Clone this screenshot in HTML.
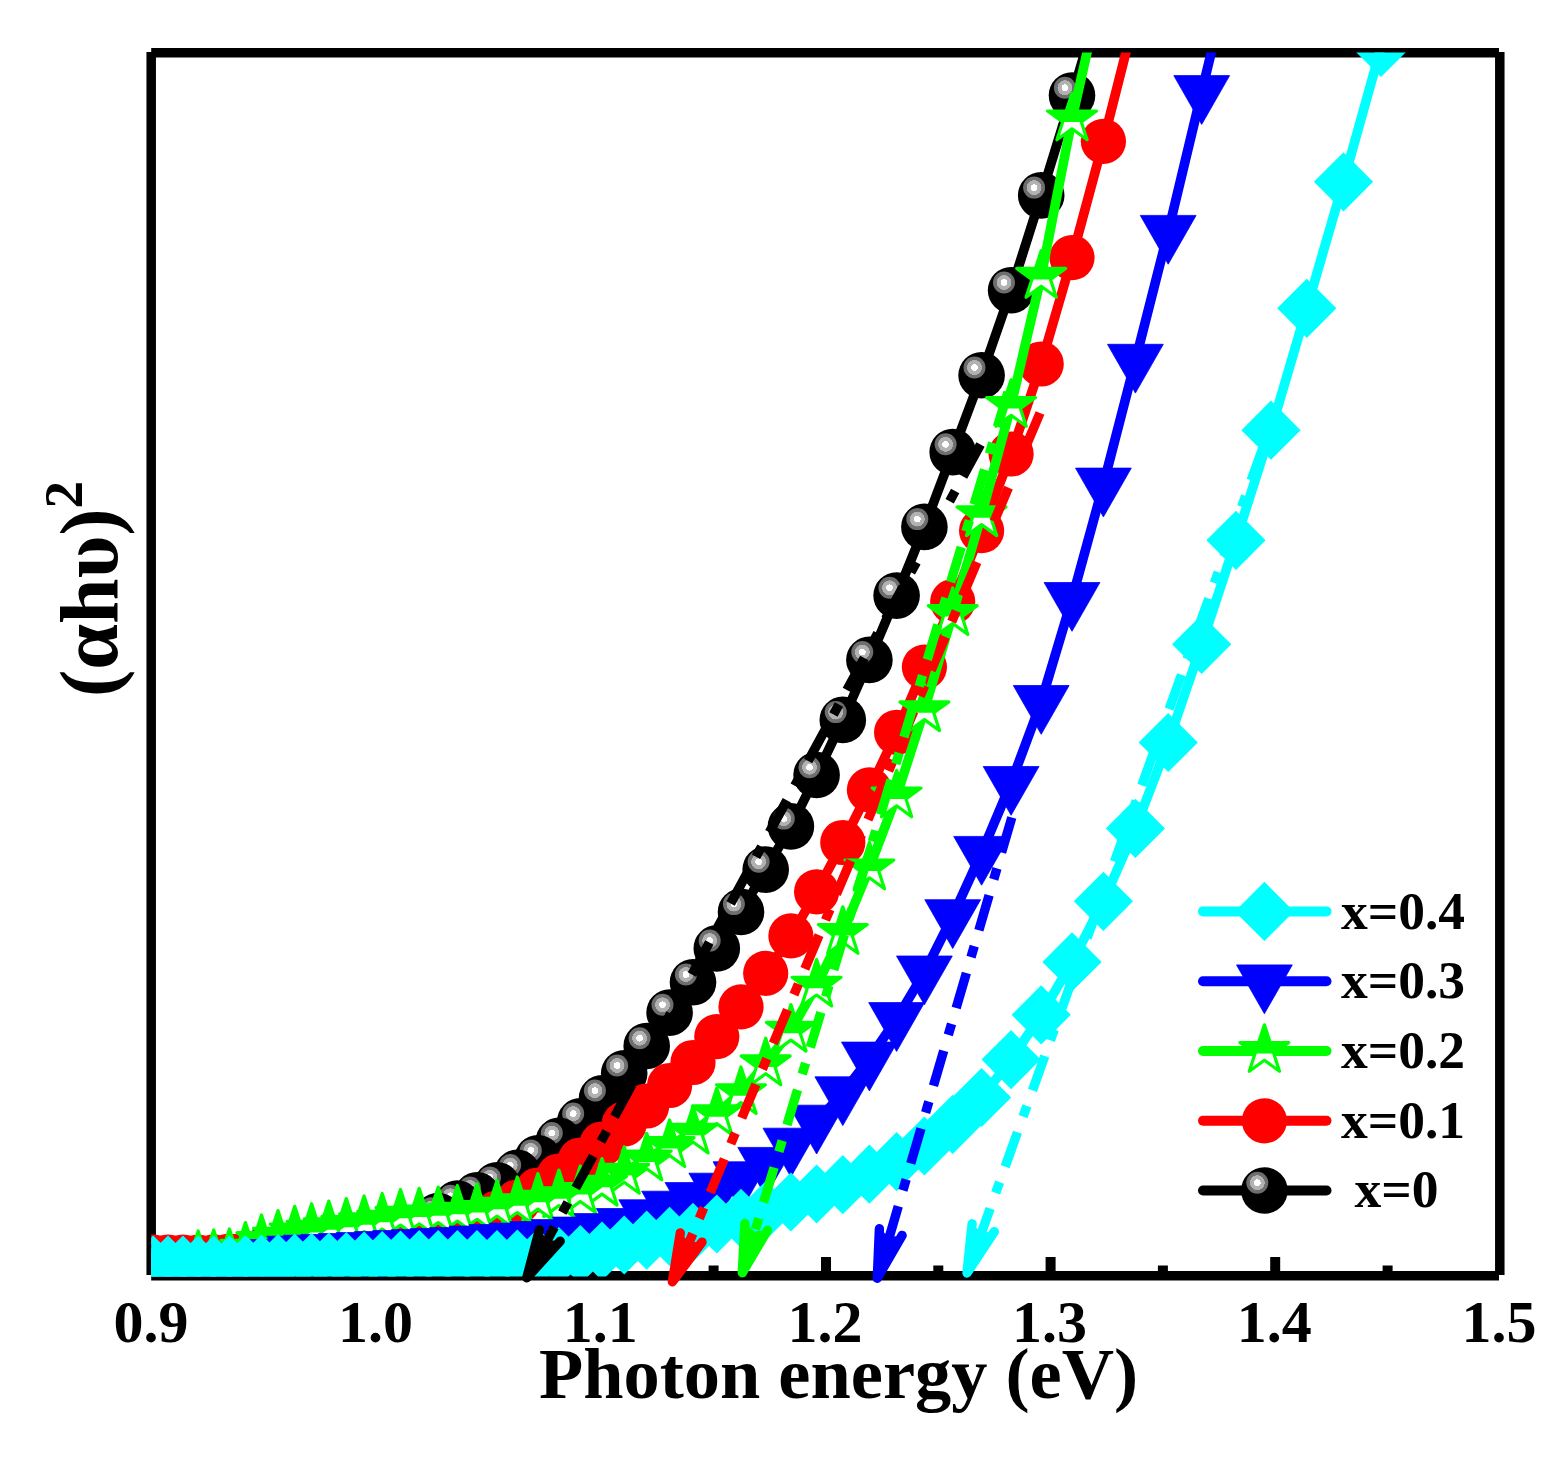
<!DOCTYPE html>
<html lang="en"><head><meta charset="utf-8"><title>Tauc plot</title>
<style>html,body{margin:0;padding:0;background:#fff}svg{display:block}text{font-family:"Liberation Serif","Times New Roman",serif;font-weight:bold;fill:#000}</style>
</head><body>
<svg width="1565" height="1460" viewBox="0 0 1565 1460">
<defs>
<clipPath id="clip"><rect x="151.2" y="52.4" width="1348.6" height="1224.1"/></clipPath>
<radialGradient id="hl" cx="0.5" cy="0.5" r="0.5"><stop offset="0" stop-color="#fff"/><stop offset="0.30" stop-color="#fff"/><stop offset="0.31" stop-color="#b4b4b4"/><stop offset="0.66" stop-color="#b0b0b0"/><stop offset="0.68" stop-color="#707070"/><stop offset="1" stop-color="#6c6c6c"/></radialGradient>
<g id="ball"><circle r="23.3" fill="#000"/><circle cx="-7.1" cy="-7.8" r="11" fill="url(#hl)"/></g>
<circle id="rc" r="22.6" fill="#f00"/>
<polygon id="tri" points="-27.9,-16.4 27.9,-16.4 0,32.4" fill="#00f" stroke="#00f" stroke-width="0.8" stroke-linejoin="round"/>
<polygon id="dia" points="0,-29.6 29.6,0 0,29.6 -29.6,0" fill="#0ff"/>
<clipPath id="uh"><rect x="-40" y="-40" width="80" height="43"/></clipPath>
<g id="star"><polygon points="0.00,-25.70 5.77,-7.94 24.44,-7.94 9.34,3.03 15.11,20.79 0.00,9.82 -15.11,20.79 -9.34,3.03 -24.44,-7.94 -5.77,-7.94" fill="#fff" stroke="#0f0" stroke-width="3.2" stroke-linejoin="round"/><polygon points="0.00,-25.70 5.77,-7.94 24.44,-7.94 9.34,3.03 15.11,20.79 0.00,9.82 -15.11,20.79 -9.34,3.03 -24.44,-7.94 -5.77,-7.94" fill="#0f0" clip-path="url(#uh)"/></g>
</defs>
<rect width="1565" height="1460" fill="#fff"/>
<g stroke="#000" stroke-width="9.5" fill="none">
<line x1="151.2" y1="52.7" x2="1499" y2="52.7"/>
<line x1="151.2" y1="1275.8" x2="1499" y2="1275.8"/>
<line x1="151.2" y1="52" x2="151.2" y2="1275"/>
<line x1="1499.8" y1="52" x2="1499.8" y2="1275"/>
</g>
<g stroke="#000" stroke-width="10" fill="none">
<line x1="264.3" y1="1265.5" x2="264.3" y2="1275.8"/>
<line x1="376.6" y1="1257" x2="376.6" y2="1275.8"/>
<line x1="489" y1="1265.5" x2="489" y2="1275.8"/>
<line x1="601.3" y1="1257" x2="601.3" y2="1275.8"/>
<line x1="713.6" y1="1265.5" x2="713.6" y2="1275.8"/>
<line x1="826" y1="1257" x2="826" y2="1275.8"/>
<line x1="938.3" y1="1265.5" x2="938.3" y2="1275.8"/>
<line x1="1050.6" y1="1257" x2="1050.6" y2="1275.8"/>
<line x1="1162.9" y1="1265.5" x2="1162.9" y2="1275.8"/>
<line x1="1275.2" y1="1257" x2="1275.2" y2="1275.8"/>
<line x1="1387.6" y1="1265.5" x2="1387.6" y2="1275.8"/>
</g>
<g clip-path="url(#clip)">
<polyline fill="none" stroke="#000" stroke-width="9.6" stroke-linejoin="round" points="1103.4,-10 1072,95.5 1041.2,195.4 1011.1,290.3 981.6,375.3 952.7,452.1 924.4,526.9 896.6,595.6 869.4,659.9 842.8,719.9 816.6,775 790.9,826.4 765.7,869.6 741,911.9 716.8,948.4 693,982.3 669.6,1012.6 646.7,1046 624.2,1073.3 602,1098.4 580.3,1121.4 558.9,1140.9 537.9,1158.2 517.3,1172.9 497,1185.2 477,1195.4 457.4,1203.6 438.2,1216 419.2,1228 400.5,1232 382.2,1235 364.1,1238 346.3,1241 328.8,1244 311.6,1246 294.7,1248 278,1250 261.5,1252 245.4,1255 229.4,1258 213.7,1260 198.2,1262 183,1262 168,1262 153.2,1262 138.6,1262"/>
<use href="#ball" x="1072" y="95.5"/>
<use href="#ball" x="1041.2" y="195.4"/>
<use href="#ball" x="1011.1" y="290.3"/>
<use href="#ball" x="981.6" y="375.3"/>
<use href="#ball" x="952.7" y="452.1"/>
<use href="#ball" x="924.4" y="526.9"/>
<use href="#ball" x="896.6" y="595.6"/>
<use href="#ball" x="869.4" y="659.9"/>
<use href="#ball" x="842.8" y="719.9"/>
<use href="#ball" x="816.6" y="775"/>
<use href="#ball" x="790.9" y="826.4"/>
<use href="#ball" x="765.7" y="869.6"/>
<use href="#ball" x="741" y="911.9"/>
<use href="#ball" x="716.8" y="948.4"/>
<use href="#ball" x="693" y="982.3"/>
<use href="#ball" x="669.6" y="1012.6"/>
<use href="#ball" x="646.7" y="1046"/>
<use href="#ball" x="624.2" y="1073.3"/>
<use href="#ball" x="602" y="1098.4"/>
<use href="#ball" x="580.3" y="1121.4"/>
<use href="#ball" x="558.9" y="1140.9"/>
<use href="#ball" x="537.9" y="1158.2"/>
<use href="#ball" x="517.3" y="1172.9"/>
<use href="#ball" x="497" y="1185.2"/>
<use href="#ball" x="477" y="1195.4"/>
<use href="#ball" x="457.4" y="1203.6"/>
<use href="#ball" x="438.2" y="1216"/>
<use href="#ball" x="419.2" y="1228"/>
<use href="#ball" x="400.5" y="1232"/>
<use href="#ball" x="382.2" y="1235"/>
<use href="#ball" x="364.1" y="1238"/>
<use href="#ball" x="346.3" y="1241"/>
<use href="#ball" x="328.8" y="1244"/>
<use href="#ball" x="311.6" y="1246"/>
<use href="#ball" x="294.7" y="1248"/>
<use href="#ball" x="278" y="1250"/>
<use href="#ball" x="261.5" y="1252"/>
<use href="#ball" x="245.4" y="1255"/>
<use href="#ball" x="229.4" y="1258"/>
<use href="#ball" x="213.7" y="1260"/>
<use href="#ball" x="198.2" y="1262"/>
<use href="#ball" x="183" y="1262"/>
<use href="#ball" x="168" y="1262"/>
<use href="#ball" x="153.2" y="1262"/>
<use href="#ball" x="138.6" y="1262"/>
<polyline fill="none" stroke="#f00" stroke-width="9.6" stroke-linejoin="round" points="1135.4,15 1103.4,141.3 1072,257.7 1041.2,364 1011.1,454 981.6,530.7 952.7,601.7 924.4,667.1 896.6,732.4 869.4,789.9 842.8,842.5 816.6,891.8 790.9,935.9 765.7,973.3 741,1006.9 716.8,1036.6 693,1062.5 669.6,1085.5 646.7,1106 624.2,1124 602,1144 580.3,1160 558.9,1176 537.9,1190 517.3,1202 497,1213 477,1222 457.4,1229 438.2,1234 419.2,1238 400.5,1241 382.2,1243.5 364.1,1245.5 346.3,1247 328.8,1248.5 311.6,1250 294.7,1251 278,1252 261.5,1253 245.4,1254.5 229.4,1256 213.7,1256.8 198.2,1257 183,1257 168,1257 153.2,1257 138.6,1257"/>
<use href="#rc" x="1135.4" y="15"/>
<use href="#rc" x="1103.4" y="141.3"/>
<use href="#rc" x="1072" y="257.7"/>
<use href="#rc" x="1041.2" y="364"/>
<use href="#rc" x="1011.1" y="454"/>
<use href="#rc" x="981.6" y="530.7"/>
<use href="#rc" x="952.7" y="601.7"/>
<use href="#rc" x="924.4" y="667.1"/>
<use href="#rc" x="896.6" y="732.4"/>
<use href="#rc" x="869.4" y="789.9"/>
<use href="#rc" x="842.8" y="842.5"/>
<use href="#rc" x="816.6" y="891.8"/>
<use href="#rc" x="790.9" y="935.9"/>
<use href="#rc" x="765.7" y="973.3"/>
<use href="#rc" x="741" y="1006.9"/>
<use href="#rc" x="716.8" y="1036.6"/>
<use href="#rc" x="693" y="1062.5"/>
<use href="#rc" x="669.6" y="1085.5"/>
<use href="#rc" x="646.7" y="1106"/>
<use href="#rc" x="624.2" y="1124"/>
<use href="#rc" x="602" y="1144"/>
<use href="#rc" x="580.3" y="1160"/>
<use href="#rc" x="558.9" y="1176"/>
<use href="#rc" x="537.9" y="1190"/>
<use href="#rc" x="517.3" y="1202"/>
<use href="#rc" x="497" y="1213"/>
<use href="#rc" x="477" y="1222"/>
<use href="#rc" x="457.4" y="1229"/>
<use href="#rc" x="438.2" y="1234"/>
<use href="#rc" x="419.2" y="1238"/>
<use href="#rc" x="400.5" y="1241"/>
<use href="#rc" x="382.2" y="1243.5"/>
<use href="#rc" x="364.1" y="1245.5"/>
<use href="#rc" x="346.3" y="1247"/>
<use href="#rc" x="328.8" y="1248.5"/>
<use href="#rc" x="311.6" y="1250"/>
<use href="#rc" x="294.7" y="1251"/>
<use href="#rc" x="278" y="1252"/>
<use href="#rc" x="261.5" y="1253"/>
<use href="#rc" x="245.4" y="1254.5"/>
<use href="#rc" x="229.4" y="1256"/>
<use href="#rc" x="213.7" y="1256.8"/>
<use href="#rc" x="198.2" y="1257"/>
<use href="#rc" x="183" y="1257"/>
<use href="#rc" x="168" y="1257"/>
<use href="#rc" x="153.2" y="1257"/>
<use href="#rc" x="138.6" y="1257"/>
<polyline fill="none" stroke="#0f0" stroke-width="9.6" stroke-linejoin="round" points="1103.4,-20 1072,119 1041.2,276.4 1011.1,405.5 981.6,514.8 952.7,613.6 924.4,709.8 896.6,796 869.4,868 842.8,932.5 816.6,985.2 790.9,1030.3 765.7,1063.9 741,1092.7 716.8,1113.8 693,1132.2 669.6,1145.6 646.7,1159 624.2,1172.4 602,1184.3 580.3,1191.6 558.9,1195.8 537.9,1199.3 517.3,1202.7 497,1206.2 477,1209.5 457.4,1211.2 438.2,1212.8 419.2,1214 400.5,1215.3 382.2,1219.2 364.1,1221.7 346.3,1224.3 328.8,1226.8 311.6,1229.4 294.7,1232 278,1236.3 261.5,1240.6 245.4,1248.3 229.4,1254.7 213.7,1255.7 198.2,1256.6 183,1266 168,1266 153.2,1266 138.6,1266"/>
<use href="#star" x="1072" y="119"/>
<use href="#star" x="1041.2" y="276.4"/>
<use href="#star" x="1011.1" y="405.5"/>
<use href="#star" x="981.6" y="514.8"/>
<use href="#star" x="952.7" y="613.6"/>
<use href="#star" x="924.4" y="709.8"/>
<use href="#star" x="896.6" y="796"/>
<use href="#star" x="869.4" y="868"/>
<use href="#star" x="842.8" y="932.5"/>
<use href="#star" x="816.6" y="985.2"/>
<use href="#star" x="790.9" y="1030.3"/>
<use href="#star" x="765.7" y="1063.9"/>
<use href="#star" x="741" y="1092.7"/>
<use href="#star" x="716.8" y="1113.8"/>
<use href="#star" x="693" y="1132.2"/>
<use href="#star" x="669.6" y="1145.6"/>
<use href="#star" x="646.7" y="1159"/>
<use href="#star" x="624.2" y="1172.4"/>
<use href="#star" x="602" y="1184.3"/>
<use href="#star" x="580.3" y="1191.6"/>
<use href="#star" x="558.9" y="1195.8"/>
<use href="#star" x="537.9" y="1199.3"/>
<use href="#star" x="517.3" y="1202.7"/>
<use href="#star" x="497" y="1206.2"/>
<use href="#star" x="477" y="1209.5"/>
<use href="#star" x="457.4" y="1211.2"/>
<use href="#star" x="438.2" y="1212.8"/>
<use href="#star" x="419.2" y="1214"/>
<use href="#star" x="400.5" y="1215.3"/>
<use href="#star" x="382.2" y="1219.2"/>
<use href="#star" x="364.1" y="1221.7"/>
<use href="#star" x="346.3" y="1224.3"/>
<use href="#star" x="328.8" y="1226.8"/>
<use href="#star" x="311.6" y="1229.4"/>
<use href="#star" x="294.7" y="1232"/>
<use href="#star" x="278" y="1236.3"/>
<use href="#star" x="261.5" y="1240.6"/>
<use href="#star" x="245.4" y="1248.3"/>
<use href="#star" x="229.4" y="1254.7"/>
<use href="#star" x="213.7" y="1255.7"/>
<use href="#star" x="198.2" y="1256.6"/>
<use href="#star" x="183" y="1266"/>
<use href="#star" x="168" y="1266"/>
<use href="#star" x="153.2" y="1266"/>
<use href="#star" x="138.6" y="1266"/>
<polyline fill="none" stroke="#00f" stroke-width="9.6" stroke-linejoin="round" points="1236,-50 1201.7,92 1168.2,231.8 1135.4,360.7 1103.4,484.5 1072,598.9 1041.2,701.9 1011.1,782.9 981.6,852.8 952.7,916.1 924.4,972.4 896.6,1019 869.4,1058.5 842.8,1093.2 816.6,1121.6 790.9,1144.6 765.7,1163.8 741,1178.2 716.8,1189.6 693,1199 669.6,1207.6 646.7,1216.2 624.2,1224.9 602,1230 580.3,1233.5 558.9,1236 537.9,1238 517.3,1239.5 497,1241 477,1242.5 457.4,1244 438.2,1245 419.2,1246 400.5,1247 382.2,1248 364.1,1249 346.3,1250 328.8,1250.8 311.6,1251.6 294.7,1252.6 278,1256 261.5,1260.5 245.4,1261 229.4,1261 213.7,1261 198.2,1261 183,1261 168,1261 153.2,1261 138.6,1261"/>
<use href="#tri" x="1201.7" y="92"/>
<use href="#tri" x="1168.2" y="231.8"/>
<use href="#tri" x="1135.4" y="360.7"/>
<use href="#tri" x="1103.4" y="484.5"/>
<use href="#tri" x="1072" y="598.9"/>
<use href="#tri" x="1041.2" y="701.9"/>
<use href="#tri" x="1011.1" y="782.9"/>
<use href="#tri" x="981.6" y="852.8"/>
<use href="#tri" x="952.7" y="916.1"/>
<use href="#tri" x="924.4" y="972.4"/>
<use href="#tri" x="896.6" y="1019"/>
<use href="#tri" x="869.4" y="1058.5"/>
<use href="#tri" x="842.8" y="1093.2"/>
<use href="#tri" x="816.6" y="1121.6"/>
<use href="#tri" x="790.9" y="1144.6"/>
<use href="#tri" x="765.7" y="1163.8"/>
<use href="#tri" x="741" y="1178.2"/>
<use href="#tri" x="716.8" y="1189.6"/>
<use href="#tri" x="693" y="1199"/>
<use href="#tri" x="669.6" y="1207.6"/>
<use href="#tri" x="646.7" y="1216.2"/>
<use href="#tri" x="624.2" y="1224.9"/>
<use href="#tri" x="602" y="1230"/>
<use href="#tri" x="580.3" y="1233.5"/>
<use href="#tri" x="558.9" y="1236"/>
<use href="#tri" x="537.9" y="1238"/>
<use href="#tri" x="517.3" y="1239.5"/>
<use href="#tri" x="497" y="1241"/>
<use href="#tri" x="477" y="1242.5"/>
<use href="#tri" x="457.4" y="1244"/>
<use href="#tri" x="438.2" y="1245"/>
<use href="#tri" x="419.2" y="1246"/>
<use href="#tri" x="400.5" y="1247"/>
<use href="#tri" x="382.2" y="1248"/>
<use href="#tri" x="364.1" y="1249"/>
<use href="#tri" x="346.3" y="1250"/>
<use href="#tri" x="328.8" y="1250.8"/>
<use href="#tri" x="311.6" y="1251.6"/>
<use href="#tri" x="294.7" y="1252.6"/>
<use href="#tri" x="278" y="1256"/>
<use href="#tri" x="261.5" y="1260.5"/>
<use href="#tri" x="245.4" y="1261"/>
<use href="#tri" x="229.4" y="1261"/>
<use href="#tri" x="213.7" y="1261"/>
<use href="#tri" x="198.2" y="1261"/>
<use href="#tri" x="183" y="1261"/>
<use href="#tri" x="168" y="1261"/>
<use href="#tri" x="153.2" y="1261"/>
<use href="#tri" x="138.6" y="1261"/>
<polyline fill="none" stroke="#0ff" stroke-width="9.6" stroke-linejoin="round" points="1419.4,-90 1381,47.5 1343.5,181.8 1306.8,308.3 1271,430.2 1236,540.3 1201.7,644.3 1168.2,742.5 1135.4,828.4 1103.4,901.3 1072,961.9 1041.2,1014.8 1011.1,1059.6 981.6,1097.5 952.7,1124.3 924.4,1146 896.6,1161.7 869.4,1174.2 842.8,1184.7 816.6,1194 790.9,1202 765.7,1210.6 741,1218.3 716.8,1224 693,1232.4 669.6,1236.3 646.7,1240.2 624.2,1245 602,1251 580.3,1254.5 558.9,1256.5 537.9,1258 517.3,1259 497,1259.5 477,1259.5 457.4,1259.5 438.2,1259.5 419.2,1259.5 400.5,1260 382.2,1260.5 364.1,1261 346.3,1261.5 328.8,1262 311.6,1262.5 294.7,1263 278,1263.5 261.5,1264 245.4,1264.5 229.4,1265 213.7,1265 198.2,1265 183,1265 168,1265 153.2,1265 138.6,1265"/>
<use href="#dia" x="1381" y="47.5"/>
<use href="#dia" x="1343.5" y="181.8"/>
<use href="#dia" x="1306.8" y="308.3"/>
<use href="#dia" x="1271" y="430.2"/>
<use href="#dia" x="1236" y="540.3"/>
<use href="#dia" x="1201.7" y="644.3"/>
<use href="#dia" x="1168.2" y="742.5"/>
<use href="#dia" x="1135.4" y="828.4"/>
<use href="#dia" x="1103.4" y="901.3"/>
<use href="#dia" x="1072" y="961.9"/>
<use href="#dia" x="1041.2" y="1014.8"/>
<use href="#dia" x="1011.1" y="1059.6"/>
<use href="#dia" x="981.6" y="1097.5"/>
<use href="#dia" x="952.7" y="1124.3"/>
<use href="#dia" x="924.4" y="1146"/>
<use href="#dia" x="896.6" y="1161.7"/>
<use href="#dia" x="869.4" y="1174.2"/>
<use href="#dia" x="842.8" y="1184.7"/>
<use href="#dia" x="816.6" y="1194"/>
<use href="#dia" x="790.9" y="1202"/>
<use href="#dia" x="765.7" y="1210.6"/>
<use href="#dia" x="741" y="1218.3"/>
<use href="#dia" x="716.8" y="1224"/>
<use href="#dia" x="693" y="1232.4"/>
<use href="#dia" x="669.6" y="1236.3"/>
<use href="#dia" x="646.7" y="1240.2"/>
<use href="#dia" x="624.2" y="1245"/>
<use href="#dia" x="602" y="1251"/>
<use href="#dia" x="580.3" y="1254.5"/>
<use href="#dia" x="558.9" y="1256.5"/>
<use href="#dia" x="537.9" y="1258"/>
<use href="#dia" x="517.3" y="1259"/>
<use href="#dia" x="497" y="1259.5"/>
<use href="#dia" x="477" y="1259.5"/>
<use href="#dia" x="457.4" y="1259.5"/>
<use href="#dia" x="438.2" y="1259.5"/>
<use href="#dia" x="419.2" y="1259.5"/>
<use href="#dia" x="400.5" y="1260"/>
<use href="#dia" x="382.2" y="1260.5"/>
<use href="#dia" x="364.1" y="1261"/>
<use href="#dia" x="346.3" y="1261.5"/>
<use href="#dia" x="328.8" y="1262"/>
<use href="#dia" x="311.6" y="1262.5"/>
<use href="#dia" x="294.7" y="1263"/>
<use href="#dia" x="278" y="1263.5"/>
<use href="#dia" x="261.5" y="1264"/>
<use href="#dia" x="245.4" y="1264.5"/>
<use href="#dia" x="229.4" y="1265"/>
<use href="#dia" x="213.7" y="1265"/>
<use href="#dia" x="198.2" y="1265"/>
<use href="#dia" x="183" y="1265"/>
<use href="#dia" x="168" y="1265"/>
<use href="#dia" x="153.2" y="1265"/>
<use href="#dia" x="138.6" y="1265"/>
</g>
<line x1="980.5" y1="444.5" x2="541.1" y2="1251.5" stroke="#000" stroke-width="9.4" stroke-dasharray="36.5 16.5 11.5 16.5"/>
<polyline points="560.2,1241.2 526.8,1277.8 539.4,1229.9" fill="none" stroke="#000" stroke-width="9.4" stroke-linejoin="round" stroke-linecap="round"/>
<polygon points="560.2,1241.2 526.8,1277.8 539.4,1229.9 547.4,1240" fill="#000"/>
<line x1="1040" y1="413" x2="684.1" y2="1254.2" stroke="#f00" stroke-width="9.4" stroke-dasharray="36.5 16.5 11.5 16.5"/>
<polyline points="702,1242.1 672.4,1281.8 680.3,1232.9" fill="none" stroke="#f00" stroke-width="9.4" stroke-linejoin="round" stroke-linecap="round"/>
<polygon points="702,1242.1 672.4,1281.8 680.3,1232.9 689.2,1242.1" fill="#f00"/>
<line x1="1008" y1="392" x2="751" y2="1244.1" stroke="#0f0" stroke-width="9.4" stroke-dasharray="36.5 16.5 11.5 16.5"/>
<polyline points="767.5,1230.2 742.3,1272.8 744.9,1223.4" fill="none" stroke="#0f0" stroke-width="9.4" stroke-linejoin="round" stroke-linecap="round"/>
<polygon points="767.5,1230.2 742.3,1272.8 744.9,1223.4 754.7,1231.6" fill="#0f0"/>
<line x1="1011.8" y1="817.5" x2="885.7" y2="1249.4" stroke="#00f" stroke-width="9.4" stroke-dasharray="36.5 16.5 11.5 16.5"/>
<polyline points="902.1,1235.4 877.3,1278.2 879.4,1228.7" fill="none" stroke="#00f" stroke-width="9.4" stroke-linejoin="round" stroke-linecap="round"/>
<polygon points="902.1,1235.4 877.3,1278.2 879.4,1228.7 889.4,1236.9" fill="#00f"/>
<line x1="1263.5" y1="446" x2="977.1" y2="1244.8" stroke="#0ff" stroke-width="9.4" stroke-dasharray="36.5 16.5 11.5 16.5"/>
<polyline points="994.3,1231.7 967,1273 972.1,1223.8" fill="none" stroke="#0ff" stroke-width="9.4" stroke-linejoin="round" stroke-linecap="round"/>
<polygon points="994.3,1231.7 967,1273 972.1,1223.8 981.5,1232.5" fill="#0ff"/>
<line x1="1203" y1="911.4" x2="1326.5" y2="911.4" stroke="#0ff" stroke-width="10" stroke-linecap="round"/>
<use href="#dia" x="1264.4" y="911.4"/>
<text x="1341" y="929" font-size="53.5">x=0.4</text>
<line x1="1203" y1="981.3" x2="1326.5" y2="981.3" stroke="#00f" stroke-width="10" stroke-linecap="round"/>
<use href="#tri" x="1264.4" y="981.3"/>
<text x="1341" y="998" font-size="53.5">x=0.3</text>
<line x1="1203" y1="1051" x2="1326.5" y2="1051" stroke="#0f0" stroke-width="10" stroke-linecap="round"/>
<use href="#star" x="1264.4" y="1050.5"/>
<text x="1341" y="1067.7" font-size="53.5">x=0.2</text>
<line x1="1203" y1="1120.8" x2="1326.5" y2="1120.8" stroke="#f00" stroke-width="10" stroke-linecap="round"/>
<use href="#rc" x="1264.4" y="1120.8"/>
<text x="1341" y="1138" font-size="53.5">x=0.1</text>
<line x1="1203" y1="1190.5" x2="1326.5" y2="1190.5" stroke="#000" stroke-width="10" stroke-linecap="round"/>
<use href="#ball" x="1264.4" y="1190.5"/>
<text x="1354.5" y="1207.4" font-size="53.5">x=0</text>
<text x="151" y="1342" font-size="60" text-anchor="middle">0.9</text>
<text x="375.6" y="1342" font-size="60" text-anchor="middle">1.0</text>
<text x="600.3" y="1342" font-size="60" text-anchor="middle">1.1</text>
<text x="825" y="1342" font-size="60" text-anchor="middle">1.2</text>
<text x="1049.6" y="1342" font-size="60" text-anchor="middle">1.3</text>
<text x="1274.2" y="1342" font-size="60" text-anchor="middle">1.4</text>
<text x="1498.9" y="1342" font-size="60" text-anchor="middle">1.5</text>
<text x="838.6" y="1398" font-size="72.4" text-anchor="middle">Photon energy (eV)</text>
<text transform="translate(116.5,697) rotate(-90)" font-size="82">(αhυ)<tspan dy="-34.5" font-size="55">2</tspan></text>
</svg></body></html>
